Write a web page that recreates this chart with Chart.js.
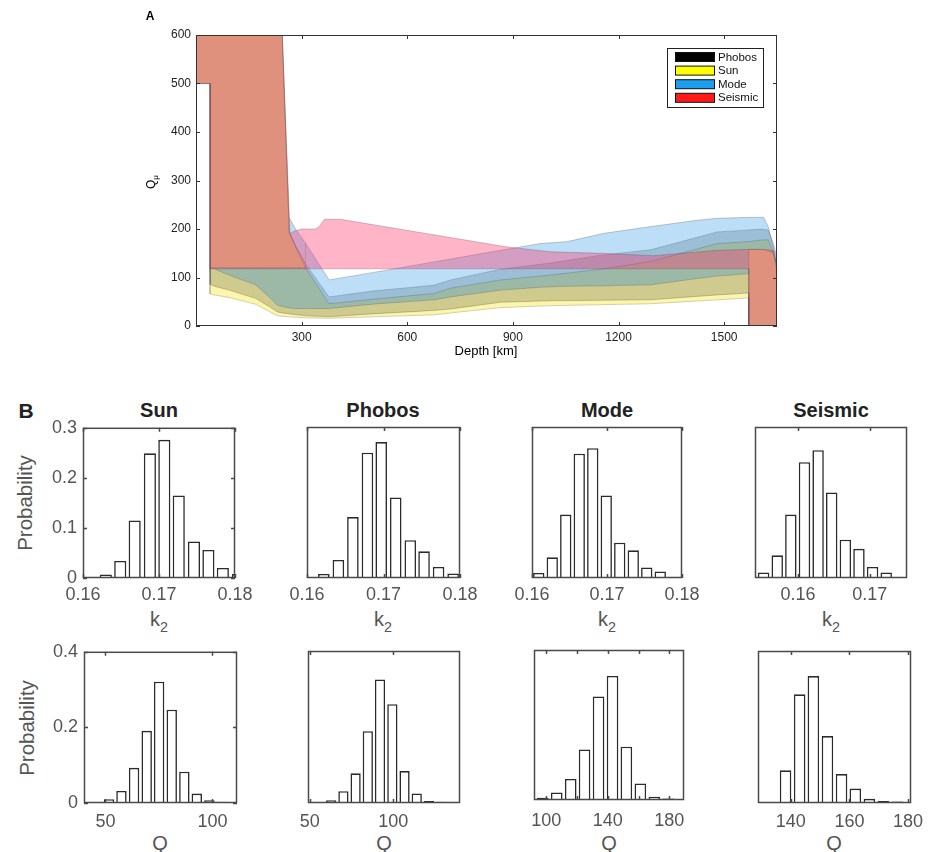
<!DOCTYPE html>
<html>
<head>
<meta charset="utf-8">
<script src="https://cdn.jsdelivr.net/npm/chart.js@4.4.1/dist/chart.umd.min.js"></script>
<style>
  body { margin: 0; background: #fff; }
  #fig { position: relative; width: 930px; height: 852px; overflow: hidden;
         font-family: "Liberation Sans", Arial, Helvetica, sans-serif; }
  #fig canvas { position: absolute; }
  .t { position: absolute; white-space: nowrap; line-height: 1; transform: translate(-50%, -50%); }
  .rot { transform: translate(-50%, -50%) rotate(-90deg); }
  .ttl { font-weight: bold; font-size: 20px; color: #222; }
  .ax { font-size: 20px; color: #555; }
  .sub { font-size: 0.72em; position: relative; top: 0.45em; }
</style>
</head>
<body>
<div id="fig">
  <canvas id="chartA"></canvas>

  <div class="t" style="left:150px;top:16px;font-weight:bold;font-size:12px;">A</div>
  <div class="t rot" style="left:151px;top:182px;font-size:12px;">Q<span class="sub" style="font-size:8px;top:3px">μ</span></div>
  <div class="t" style="left:486px;top:350px;font-size:13px;">Depth [km]</div>

  <div class="t" style="left:26px;top:410px;font-weight:bold;font-size:21px;color:#222;">B</div>
  <div class="t ttl" style="left:159px;top:410px;">Sun</div>
  <div class="t ttl" style="left:383px;top:410px;">Phobos</div>
  <div class="t ttl" style="left:607px;top:410px;">Mode</div>
  <div class="t ttl" style="left:831px;top:410px;">Seismic</div>

  <div class="t rot ax" style="left:25px;top:503px;font-size:20.5px;">Probability</div>
  <div class="t rot ax" style="left:27px;top:728px;font-size:20.5px;">Probability</div>

  <div class="t ax" style="left:159px;top:619px;">k<span class="sub">2</span></div>
  <div class="t ax" style="left:383px;top:619px;">k<span class="sub">2</span></div>
  <div class="t ax" style="left:607px;top:619px;">k<span class="sub">2</span></div>
  <div class="t ax" style="left:831px;top:619px;">k<span class="sub">2</span></div>

  <div class="t ax" style="left:160px;top:843px;">Q</div>
  <div class="t ax" style="left:384px;top:843px;">Q</div>
  <div class="t ax" style="left:609px;top:843px;">Q</div>
  <div class="t ax" style="left:834px;top:843px;">Q</div>
</div>

<script>
// ---- panel A: Q_mu ranges vs depth ----
const xTicksA = [300, 600, 900, 1200, 1500];
const yTicksA = [0, 100, 200, 300, 400, 500, 600];

const sunDepth = [0, 40, 40, 52, 94, 169, 208, 231, 245, 265, 285, 311, 378, 500, 675, 723, 865, 1007, 1150, 1291, 1480, 1570, 1570, 1600, 1625, 1640, 1650];
const sunLow   = [500, 500, 66, 64, 59, 45, 30, 21, 20, 19, 18, 17, 16, 19, 23, 27, 38, 42, 44, 46, 54, 58, 0, 0, 0, 0, 0];
const sunHigh  = [600, 600, 600, 600, 600, 600, 600, 600, 600, 193, 160, 120, 46, 55, 67, 78, 95, 105, 117, 133, 170, 174, 174, 177, 178, 150, 125];

const phobosDepth = [0, 40, 40, 52, 94, 169, 208, 231, 245, 265, 285, 311, 378, 500, 675, 723, 865, 1007, 1150, 1291, 1480, 1570, 1570, 1600, 1625, 1640, 1650];
const phobosLow   = [500, 500, 86, 82, 74, 57, 40, 29, 27, 25, 23, 21, 19, 25, 32, 35, 49, 52, 53, 54, 64, 68, 0, 0, 0, 0, 0];
const phobosHigh  = [600, 600, 600, 600, 600, 600, 600, 600, 600, 193, 162, 128, 60, 72, 84, 95, 117, 130, 146, 157, 194, 198, 198, 200, 198, 170, 140];

const modeDepth = [40, 52, 94, 169, 208, 231, 265, 283, 311, 311, 378, 500, 675, 723, 865, 978, 1054, 1158, 1292, 1423, 1480, 1570, 1570, 1612, 1625, 1640, 1650];
const modeLow   = [119, 118, 105, 85, 60, 43, 37, 36, 36, 36, 36, 45, 54, 60, 74, 80, 82, 83, 85, 98, 103, 108, 158, 158, 155, 150, 120];
const modeHigh  = [120, 120, 120, 120, 120, 120, 120, 120, 120, 171, 95, 110, 132, 138, 156, 170, 174, 191, 205, 218, 222, 224, 224, 224, 205, 160, 125];
// thin strip of the Mode range that rises above the lithosphere block
const modeStripDepth = [265, 285, 311];
const modeStripLow   = [193, 162, 128];
const modeStripHigh  = [223, 197, 171];

const seismicDepth = [0, 40, 40, 245, 267, 280, 300, 340, 350, 365, 410, 884, 1007, 1150, 1300, 1480, 1570, 1570, 1600, 1625, 1640, 1650];
const seismicLow   = [500, 500, 118, 118, 118, 118, 118, 118, 118, 118, 118, 118, 118, 118, 118, 118, 118, 0, 0, 0, 0, 0];
const seismicHigh  = [600, 600, 600, 600, 191, 196, 200, 200, 205, 220, 220, 163, 153, 150, 145, 156, 158, 158, 158, 157, 155, 110];

const legendLabels = ['Phobos', 'Sun', 'Mode', 'Seismic'];
const legendColors = ['#000000', '#ffff00', '#1a9ff0', '#ff1a1a'];

// ---- panel B: histograms ----
const k2Ticks = [0.16, 0.17, 0.18];
const k2TicksSeismic = [0.16, 0.17];
const k2ProbTicks = [0, 0.1, 0.2, 0.3];
const qProbTicks = [0, 0.2, 0.4];

const sunK2Bins = [0.1630, 0.1649, 0.1668, 0.1688, 0.1707, 0.1726, 0.1746, 0.1765, 0.1784, 0.1804];
const sunK2Prob = [0.007, 0.034, 0.115, 0.249, 0.276, 0.165, 0.073, 0.056, 0.020, 0.008];
const phobosK2Bins = [0.1622, 0.1641, 0.1660, 0.1679, 0.1697, 0.1716, 0.1735, 0.1753, 0.1772, 0.1791];
const phobosK2Prob = [0.008, 0.036, 0.121, 0.249, 0.270, 0.160, 0.075, 0.053, 0.022, 0.009];
const modeK2Bins = [0.1609, 0.1627, 0.1645, 0.1663, 0.1681, 0.1699, 0.1717, 0.1735, 0.1753, 0.1771];
const modeK2Prob = [0.010, 0.041, 0.126, 0.247, 0.258, 0.164, 0.070, 0.055, 0.021, 0.013];
const seismicK2Bins = [0.1552, 0.1571, 0.1590, 0.1609, 0.1628, 0.1647, 0.1666, 0.1685, 0.1704, 0.1723];
const seismicK2Prob = [0.011, 0.045, 0.126, 0.230, 0.254, 0.170, 0.076, 0.058, 0.022, 0.011];

const sunQTicks = [50, 100];
const phobosQTicks = [50, 100];
const modeQTicks = [100, 120, 140, 160, 180];
const modeQLabels = [100, 140, 180];
const seismicQTicks = [140, 160, 180];

const sunQBins = [51.7, 57.5, 63.4, 69.3, 75.1, 81.0, 86.9, 92.7, 98.6, 104.5];
const sunQProb = [0.010, 0.032, 0.093, 0.191, 0.321, 0.247, 0.083, 0.025, 0.007, 0.003];
const phobosQBins = [62.9, 70.2, 77.5, 84.8, 92.1, 99.5, 106.8, 114.1, 121.4, 128.7];
const phobosQProb = [0.007, 0.031, 0.078, 0.189, 0.325, 0.260, 0.084, 0.025, 0.005, 0.003];
const modeQBins = [97.7, 106.8, 115.9, 124.9, 134.0, 143.1, 152.1, 161.2, 170.3, 179.3];
const modeQProb = [0.006, 0.020, 0.056, 0.135, 0.276, 0.331, 0.142, 0.044, 0.009, 0.004];
const seismicQBins = [138.2, 143.0, 147.7, 152.5, 157.3, 162.0, 166.8, 171.6, 176.4];
const seismicQProb = [0.086, 0.286, 0.334, 0.176, 0.076, 0.038, 0.011, 0.005, 0.004];

const FONT = '"Liberation Sans", Arial, Helvetica, sans-serif';
const PAD = { left: 50, top: 16, right: 30, bottom: 40 };

// box round the plot area with MATLAB-style inward ticks on all four sides
const framePlugin = {
    id: 'frame',
    afterDatasetsDraw(chart, args, opts) {
        const { ctx, chartArea: a, scales } = chart;
        const len = opts.tick;
        ctx.save();
        ctx.strokeStyle = opts.color;
        ctx.lineWidth = opts.width;
        ctx.beginPath();
        for (const t of scales.x.ticks) {
            const px = Math.round(scales.x.getPixelForValue(t.value)) + 0.5;
            ctx.moveTo(px, a.bottom); ctx.lineTo(px, a.bottom - len);
            ctx.moveTo(px, a.top); ctx.lineTo(px, a.top + len);
        }
        for (const t of scales.y.ticks) {
            const py = Math.round(scales.y.getPixelForValue(t.value)) + 0.5;
            ctx.moveTo(a.left, py); ctx.lineTo(a.left + len, py);
            ctx.moveTo(a.right, py); ctx.lineTo(a.right - len, py);
        }
        ctx.stroke();
        ctx.strokeRect(a.left + 0.5, a.top + 0.5, a.right - a.left - 1, a.bottom - a.top - 1);
        ctx.restore();
    },
};

const legendPlugin = {
    id: 'boxLegend',
    afterDraw(chart) {
        const { ctx, chartArea: a } = chart;
        const x0 = a.right - 110, y0 = a.top + 13, w = 96, h = 59;
        ctx.save();
        ctx.fillStyle = '#fff';
        ctx.fillRect(x0, y0, w, h);
        ctx.strokeStyle = '#222';
        ctx.lineWidth = 1;
        ctx.strokeRect(x0 + 0.5, y0 + 0.5, w, h);
        ctx.font = '11.5px ' + FONT;
        ctx.textBaseline = 'middle';
        legendLabels.forEach((lab, i) => {
            const cy = y0 + 9 + i * 13.6;
            ctx.fillStyle = legendColors[i];
            ctx.fillRect(x0 + 8, cy - 4.5, 39, 9);
            ctx.strokeStyle = '#111';
            ctx.strokeRect(x0 + 8.5, cy - 4.5, 39, 9);
            ctx.fillStyle = '#111';
            ctx.fillText(lab, x0 + 51, cy + 0.5);
        });
        ctx.restore();
    },
};

function place(canvas, box) {
    const [l, t, r, b] = box;
    canvas.width = r - l + PAD.left + PAD.right;
    canvas.height = b - t + PAD.top + PAD.bottom;
    canvas.style.left = (l - PAD.left) + 'px';
    canvas.style.top = (t - PAD.top) + 'px';
}

function fixedTicks(values) {
    return (scale) => { scale.ticks = values.map(v => ({ value: v })); };
}

// ---- panel A ----
const EDGE = 'rgba(70,70,70,0.35)';
const SEISMIC_FILL = 'rgba(255,40,95,0.35)';
const MODE_FILL = 'rgba(38,145,228,0.30)';
const PHOBOS_FILL = 'rgba(0,0,0,0.18)';
const SUN_FILL = 'rgba(246,228,0,0.33)';

function band(label, depth, low, high, color, order) {
    return [
        {
            label, order, fill: '+1', backgroundColor: color,
            data: depth.map((d, i) => ({ x: d, y: high[i] })),
            borderColor: EDGE, borderWidth: 0.8, pointRadius: 0, tension: 0,
        },
        {
            label: label + ' min', order, fill: false,
            data: depth.map((d, i) => ({ x: d, y: low[i] })),
            borderColor: EDGE, borderWidth: 0.8, pointRadius: 0, tension: 0,
        },
    ];
}

const canvasA = document.getElementById('chartA');
place(canvasA, [196, 35, 777, 326]);

new Chart(canvasA, {
    type: 'line',
    data: {
        datasets: [
            ...band('Seismic', seismicDepth, seismicLow, seismicHigh, SEISMIC_FILL, 1),
            ...band('Mode', modeDepth, modeLow, modeHigh, MODE_FILL, 2),
            ...band('Mode strip', modeStripDepth, modeStripLow, modeStripHigh, MODE_FILL, 2),
            ...band('Phobos', phobosDepth, phobosLow, phobosHigh, PHOBOS_FILL, 3),
            ...band('Sun', sunDepth, sunLow, sunHigh, SUN_FILL, 4),
        ],
    },
    options: {
        responsive: false,
        animation: false,
        layout: { padding: { left: 0, top: PAD.top, right: PAD.right, bottom: 0 } },
        plugins: {
            legend: { display: false },
            tooltip: { enabled: false },
            frame: { color: '#333', width: 1, tick: 4 },
        },
        scales: {
            x: {
                type: 'linear', min: 0, max: 1650,
                afterBuildTicks: fixedTicks(xTicksA),
                afterFit: s => { s.height = PAD.bottom; },
                grid: { display: false, drawTicks: false },
                border: { display: false },
                ticks: { autoSkip: false, maxRotation: 0, padding: 4, color: '#222',
                         font: { family: FONT, size: 12 }, callback: v => String(v) },
            },
            y: {
                type: 'linear', min: 0, max: 600,
                afterBuildTicks: fixedTicks(yTicksA),
                afterFit: s => { s.width = PAD.left; },
                grid: { display: false, drawTicks: false },
                border: { display: false },
                ticks: { autoSkip: false, padding: 5, color: '#222',
                         font: { family: FONT, size: 12 }, callback: v => String(v) },
            },
        },
    },
    plugins: [framePlugin, legendPlugin],
});

// ---- panel B ----
const histPanels = [
    { bins: sunK2Bins, prob: sunK2Prob, xr: [0.16, 0.18], xt: k2Ticks, xl: k2Ticks, yr: [0, 0.3], yt: k2ProbTicks, box: [83, 427, 235, 578], pad: 6 },
    { bins: phobosK2Bins, prob: phobosK2Prob, xr: [0.16, 0.18], xt: k2Ticks, xl: k2Ticks, yr: [0, 0.3], yt: [], box: [307, 427, 460, 578], pad: 6 },
    { bins: modeK2Bins, prob: modeK2Prob, xr: [0.16, 0.18], xt: k2Ticks, xl: k2Ticks, yr: [0, 0.3], yt: [], box: [532, 427, 682, 578], pad: 6 },
    { bins: seismicK2Bins, prob: seismicK2Prob, xr: [0.154, 0.1752], xt: k2TicksSeismic, xl: k2TicksSeismic, yr: [0, 0.3], yt: [], box: [755, 427, 907, 578], pad: 6 },
    { bins: sunQBins, prob: sunQProb, xr: [40, 111.5], xt: sunQTicks, xl: sunQTicks, yr: [0, 0.4], yt: qProbTicks, box: [84, 651, 237, 803], pad: 8 },
    { bins: phobosQBins, prob: phobosQProb, xr: [49, 140], xt: phobosQTicks, xl: phobosQTicks, yr: [0, 0.4], yt: [], box: [308, 651, 460, 803], pad: 8 },
    { bins: modeQBins, prob: modeQProb, xr: [92, 189.6], xt: modeQTicks, xl: modeQLabels, yr: [0, 0.4], yt: [], box: [534, 650, 684, 800], pad: 10 },
    { bins: seismicQBins, prob: seismicQProb, xr: [128.8, 181], xt: seismicQTicks, xl: seismicQTicks, yr: [0, 0.4], yt: [], box: [758, 651, 911, 803], pad: 8 },
];

const fig = document.getElementById('fig');
histPanels.forEach(p => {
    const cv = document.createElement('canvas');
    fig.appendChild(cv);
    place(cv, p.box);
    new Chart(cv, {
        type: 'bar',
        data: {
            datasets: [{
                data: p.bins.map((b, i) => ({ x: b, y: p.prob[i] })),
                backgroundColor: '#fff',
                borderColor: '#2b2b2b',
                borderWidth: 1.6,
                barPercentage: 0.84,
                categoryPercentage: 1,
                clip: 0,
            }],
        },
        options: {
            responsive: false,
            animation: false,
            layout: { padding: { left: 0, top: PAD.top, right: PAD.right, bottom: 0 } },
            plugins: {
                legend: { display: false },
                tooltip: { enabled: false },
                frame: { color: '#4a4a4a', width: 1.5, tick: 4 },
            },
            scales: {
                x: {
                    type: 'linear', offset: false, min: p.xr[0], max: p.xr[1],
                    afterBuildTicks: fixedTicks(p.xt),
                    afterFit: s => { s.height = PAD.bottom; },
                    grid: { display: false, drawTicks: false },
                    border: { display: false },
                    ticks: { autoSkip: false, maxRotation: 0, padding: p.pad, color: '#555',
                             font: { family: FONT, size: 18 },
                             callback: v => (p.xl.includes(v) ? String(v) : '') },
                },
                y: {
                    type: 'linear', min: p.yr[0], max: p.yr[1],
                    afterBuildTicks: fixedTicks(p.yt),
                    afterFit: s => { s.width = PAD.left; },
                    grid: { display: false, drawTicks: false },
                    border: { display: false },
                    ticks: { display: p.yt.length > 0, autoSkip: false, padding: 6, color: '#555',
                             font: { family: FONT, size: 18 }, callback: v => String(v) },
                },
            },
        },
        plugins: [framePlugin],
    });
});
</script>
</body>
</html>
